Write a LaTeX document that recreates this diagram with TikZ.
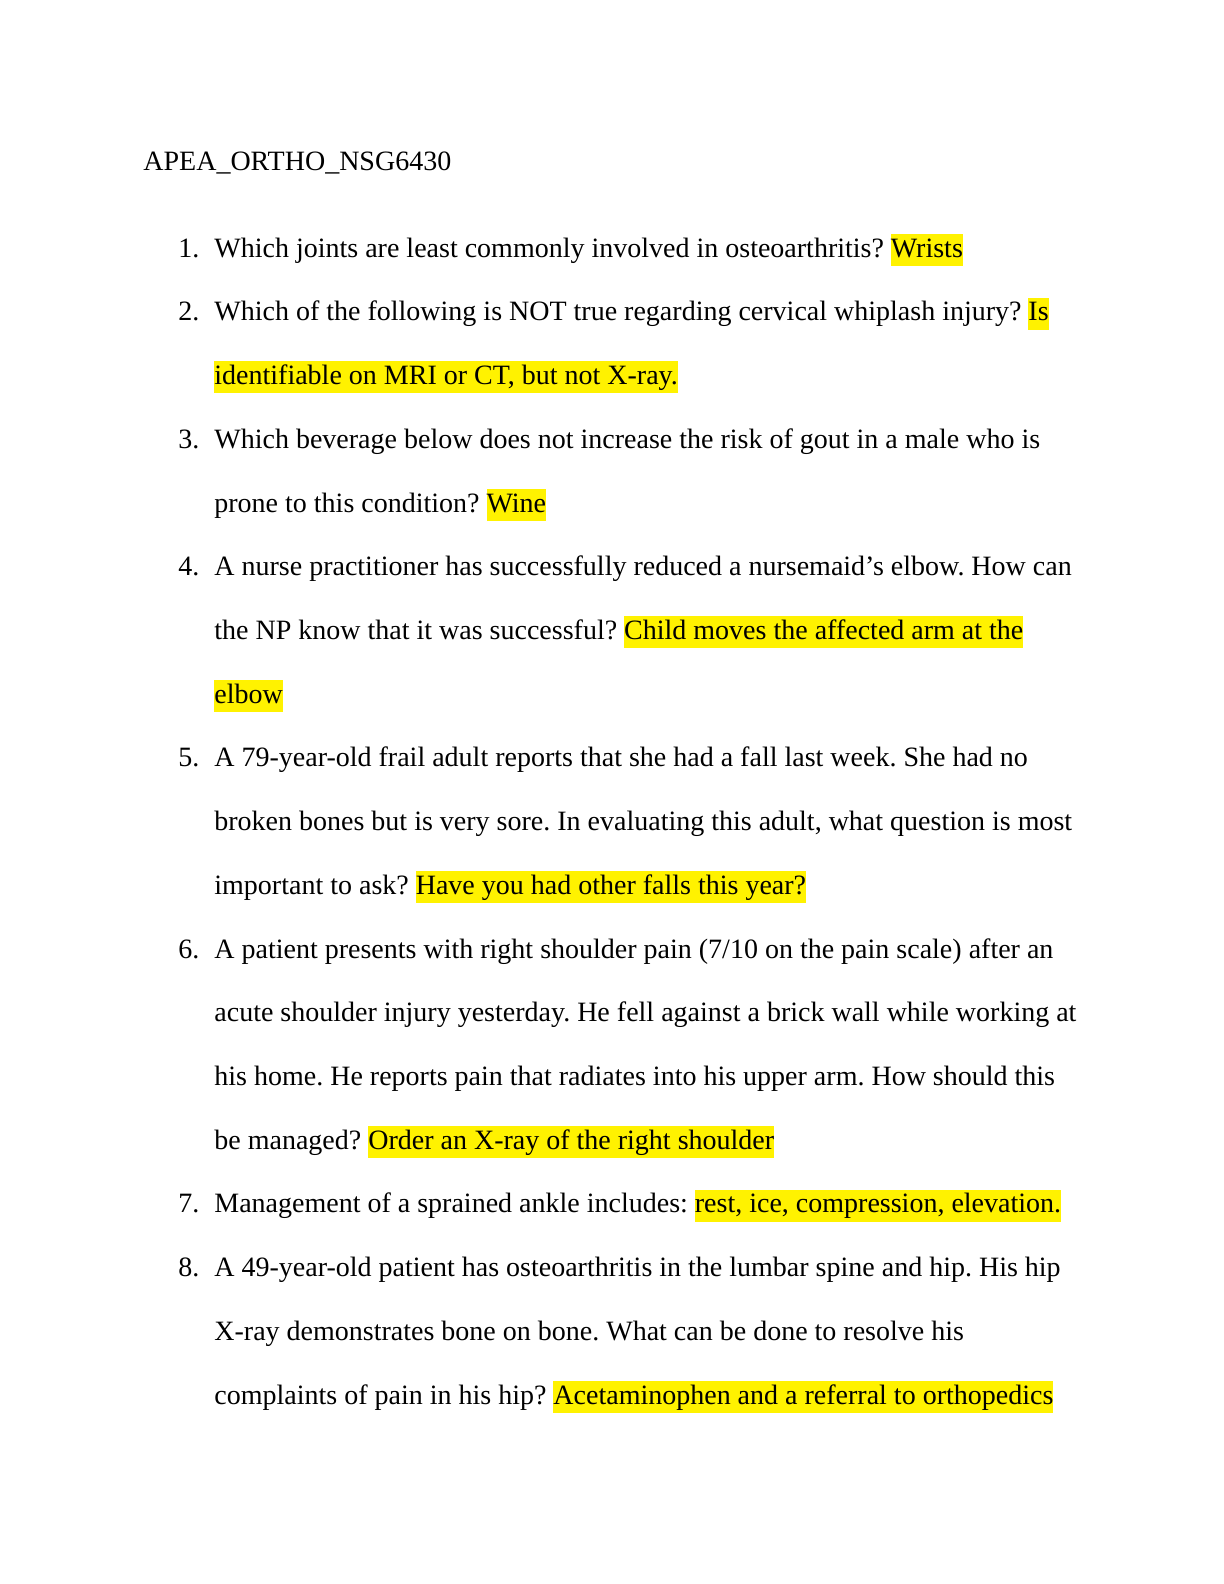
\documentclass[tikz,border=0pt]{standalone}
\usepackage{fontspec}
\setmainfont{Liberation Serif}
\newcommand{\hl}[1]{{\setlength{\fboxsep}{0pt}\colorbox{yellow}{\rule[-4.5pt]{0pt}{16pt}#1}}}
\tikzset{txt/.style={anchor=base west,inner sep=0pt,font=\fontsize{14}{16}\selectfont\frenchspacing}}
\begin{document}
\begin{tikzpicture}[x=1pt,y=1pt]
\useasboundingbox (0,0) rectangle (612,-792);
\node[txt] (title) at (71.5,-85) {APEA\_ORTHO\_NSG6430};

\node[txt] (n1) at (89,-128.5) {1.};
\node[txt] (l1) at (107,-128.5) {Which joints are least commonly involved in osteoarthritis? \hl{Wrists}};
\node[txt] (n2) at (89,-160.4) {2.};
\node[txt] (l2) at (107,-160.4) {Which of the following is NOT true regarding cervical whiplash injury? \hl{Is}};
\node[txt] (l3) at (107,-192.2) {\hl{identifiable on MRI or CT, but not X-ray.}};
\node[txt] (n3) at (89,-224.1) {3.};
\node[txt] (l4) at (107,-224.1) {Which beverage below does not increase the risk of gout in a male who is};
\node[txt] (l5) at (107,-256) {prone to this condition? \hl{Wine}};
\node[txt] (n4) at (89,-287.8) {4.};
\node[txt] (l6) at (107,-287.8) {A nurse practitioner has successfully reduced a nursemaid’s elbow. How can};
\node[txt] (l7) at (107,-319.7) {the NP know that it was successful? \hl{Child moves the affected arm at the}};
\node[txt] (l8) at (107,-351.5) {\hl{elbow}};
\node[txt] (n5) at (89,-383.4) {5.};
\node[txt] (l9) at (107,-383.4) {A 79-year-old frail adult reports that she had a fall last week. She had no};
\node[txt] (l10) at (107,-415.3) {broken bones but is very sore. In evaluating this adult, what question is most};
\node[txt] (l11) at (107,-447.1) {important to ask? \hl{Have you had other falls this year?}};
\node[txt] (n6) at (89,-479) {6.};
\node[txt] (l12) at (107,-479) {A patient presents with right shoulder pain (7/10 on the pain scale) after an};
\node[txt] (l13) at (107,-510.8) {acute shoulder injury yesterday. He fell against a brick wall while working at};
\node[txt] (l14) at (107,-542.7) {his home. He reports pain that radiates into his upper arm. How should this};
\node[txt] (l15) at (107,-574.6) {be managed? \hl{Order an X-ray of the right shoulder}};
\node[txt] (n7) at (89,-606.4) {7.};
\node[txt] (l16) at (107,-606.4) {Management of a sprained ankle includes: \hl{rest, ice, compression, elevation.}};
\node[txt] (n8) at (89,-638.3) {8.};
\node[txt] (l17) at (107,-638.3) {A 49-year-old patient has osteoarthritis in the lumbar spine and hip. His hip};
\node[txt] (l18) at (107,-670.1) {X-ray demonstrates bone on bone. What can be done to resolve his};
\node[txt] (l19) at (107,-702) {complaints of pain in his hip? \hl{Acetaminophen and a referral to orthopedics}};
\end{tikzpicture}
\end{document}
